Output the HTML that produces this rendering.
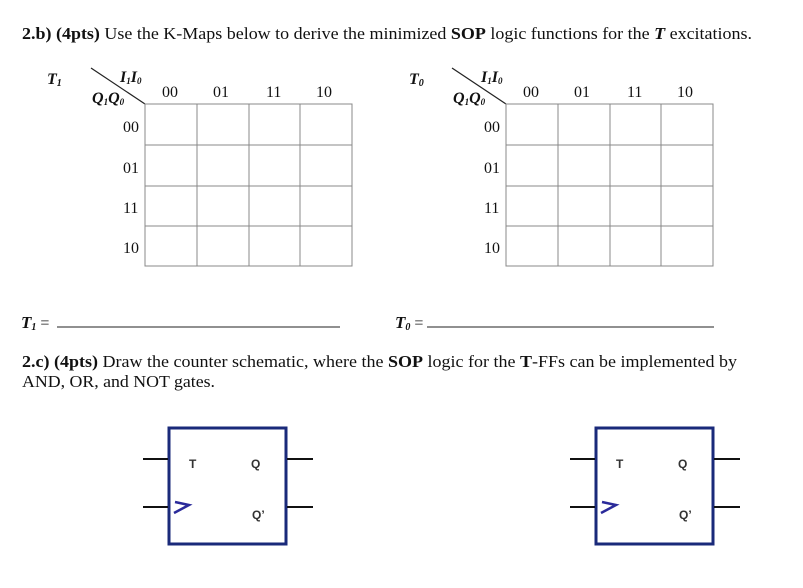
<!DOCTYPE html>
<html><head><style>body{margin:0;background:#fff}svg{display:block}</style></head><body>
<svg width="803" height="588" viewBox="0 0 803 588" xmlns="http://www.w3.org/2000/svg" font-family="Liberation Serif, serif" fill="#111">
<text x="22" y="39" font-size="17" textLength="730" lengthAdjust="spacingAndGlyphs"><tspan font-weight="bold">2.b) (4pts)</tspan> Use the K-Maps below to derive the minimized <tspan font-weight="bold">SOP</tspan> logic functions for the <tspan font-weight="bold" font-style="italic">T</tspan> excitations.</text>

<g id="km">
<text x="47" y="84" font-size="16" font-weight="bold" font-style="italic">T<tspan font-size="10" dy="2">1</tspan></text>
<line x1="91" y1="68" x2="145" y2="104" stroke="#222" stroke-width="1.2"/>
<text x="120" y="82" font-size="16" font-weight="bold" font-style="italic">I<tspan font-size="9" dy="2">1</tspan><tspan dy="-2">I</tspan><tspan font-size="9" dy="2">0</tspan></text>
<text x="92" y="103" font-size="16" font-weight="bold" font-style="italic">Q<tspan font-size="9" dy="2">1</tspan><tspan dy="-2">Q</tspan><tspan font-size="9" dy="2">0</tspan></text>
<g font-size="16">
<text x="162" y="97">00</text><text x="213" y="97">01</text><text x="266" y="97">11</text><text x="316" y="97">10</text>
<text x="123" y="132">00</text><text x="123" y="173">01</text><text x="123" y="213">11</text><text x="123" y="253">10</text>
</g>
<g stroke="#888" stroke-width="1" fill="none">
<rect x="145" y="104" width="207" height="162"/>
<line x1="197" y1="104" x2="197" y2="266"/><line x1="249" y1="104" x2="249" y2="266"/><line x1="300" y1="104" x2="300" y2="266"/>
<line x1="145" y1="145" x2="352" y2="145"/><line x1="145" y1="186" x2="352" y2="186"/><line x1="145" y1="226" x2="352" y2="226"/>
</g>
</g>
<g transform="translate(361,0)">
<text x="48" y="84" font-size="16" font-weight="bold" font-style="italic">T<tspan font-size="10" dy="2">0</tspan></text>
<line x1="91" y1="68" x2="145" y2="104" stroke="#222" stroke-width="1.2"/>
<text x="120" y="82" font-size="16" font-weight="bold" font-style="italic">I<tspan font-size="9" dy="2">1</tspan><tspan dy="-2">I</tspan><tspan font-size="9" dy="2">0</tspan></text>
<text x="92" y="103" font-size="16" font-weight="bold" font-style="italic">Q<tspan font-size="9" dy="2">1</tspan><tspan dy="-2">Q</tspan><tspan font-size="9" dy="2">0</tspan></text>
<g font-size="16">
<text x="162" y="97">00</text><text x="213" y="97">01</text><text x="266" y="97">11</text><text x="316" y="97">10</text>
<text x="123" y="132">00</text><text x="123" y="173">01</text><text x="123" y="213">11</text><text x="123" y="253">10</text>
</g>
<g stroke="#888" stroke-width="1" fill="none">
<rect x="145" y="104" width="207" height="162"/>
<line x1="197" y1="104" x2="197" y2="266"/><line x1="249" y1="104" x2="249" y2="266"/><line x1="300" y1="104" x2="300" y2="266"/>
<line x1="145" y1="145" x2="352" y2="145"/><line x1="145" y1="186" x2="352" y2="186"/><line x1="145" y1="226" x2="352" y2="226"/>
</g>
</g>

<text x="21" y="328" font-size="17" font-weight="bold" font-style="italic">T<tspan font-size="10" dy="2">1</tspan><tspan font-weight="normal" font-style="normal" font-size="16" dy="-2"> =</tspan></text>
<line x1="57" y1="327" x2="340" y2="327" stroke="#222" stroke-width="1"/>
<text x="395" y="328" font-size="17" font-weight="bold" font-style="italic">T<tspan font-size="10" dy="2">0</tspan><tspan font-weight="normal" font-style="normal" font-size="16" dy="-2"> =</tspan></text>
<line x1="427" y1="327" x2="714" y2="327" stroke="#222" stroke-width="1"/>

<text x="22" y="367" font-size="17" textLength="715" lengthAdjust="spacingAndGlyphs"><tspan font-weight="bold">2.c) (4pts)</tspan> Draw the counter schematic, where the <tspan font-weight="bold">SOP</tspan> logic for the <tspan font-weight="bold">T</tspan>-FFs can be implemented by</text>
<text x="22" y="387" font-size="17" textLength="193" lengthAdjust="spacingAndGlyphs">AND, OR, and NOT gates.</text>

<g id="ff">
<rect x="169" y="428" width="117" height="116" fill="none" stroke="#1a2a7a" stroke-width="3"/>
<g stroke="#111" stroke-width="2"><line x1="143" y1="459" x2="168" y2="459"/><line x1="143" y1="507" x2="168" y2="507"/><line x1="287" y1="459" x2="313" y2="459"/><line x1="287" y1="507" x2="313" y2="507"/></g>
<polyline points="175,502 189,505 174,513" fill="none" stroke="#2a2a9a" stroke-width="2.5"/>
<g font-family="Liberation Sans, sans-serif" font-weight="bold" font-size="12" fill="#333"><text x="189" y="468">T</text><text x="251" y="468">Q</text><text x="252" y="519">Q’</text></g>
</g>
<g transform="translate(427,0)">
<rect x="169" y="428" width="117" height="116" fill="none" stroke="#1a2a7a" stroke-width="3"/>
<g stroke="#111" stroke-width="2"><line x1="143" y1="459" x2="168" y2="459"/><line x1="143" y1="507" x2="168" y2="507"/><line x1="287" y1="459" x2="313" y2="459"/><line x1="287" y1="507" x2="313" y2="507"/></g>
<polyline points="175,502 189,505 174,513" fill="none" stroke="#2a2a9a" stroke-width="2.5"/>
<g font-family="Liberation Sans, sans-serif" font-weight="bold" font-size="12" fill="#333"><text x="189" y="468">T</text><text x="251" y="468">Q</text><text x="252" y="519">Q’</text></g>
</g>
</svg>
</body></html>
